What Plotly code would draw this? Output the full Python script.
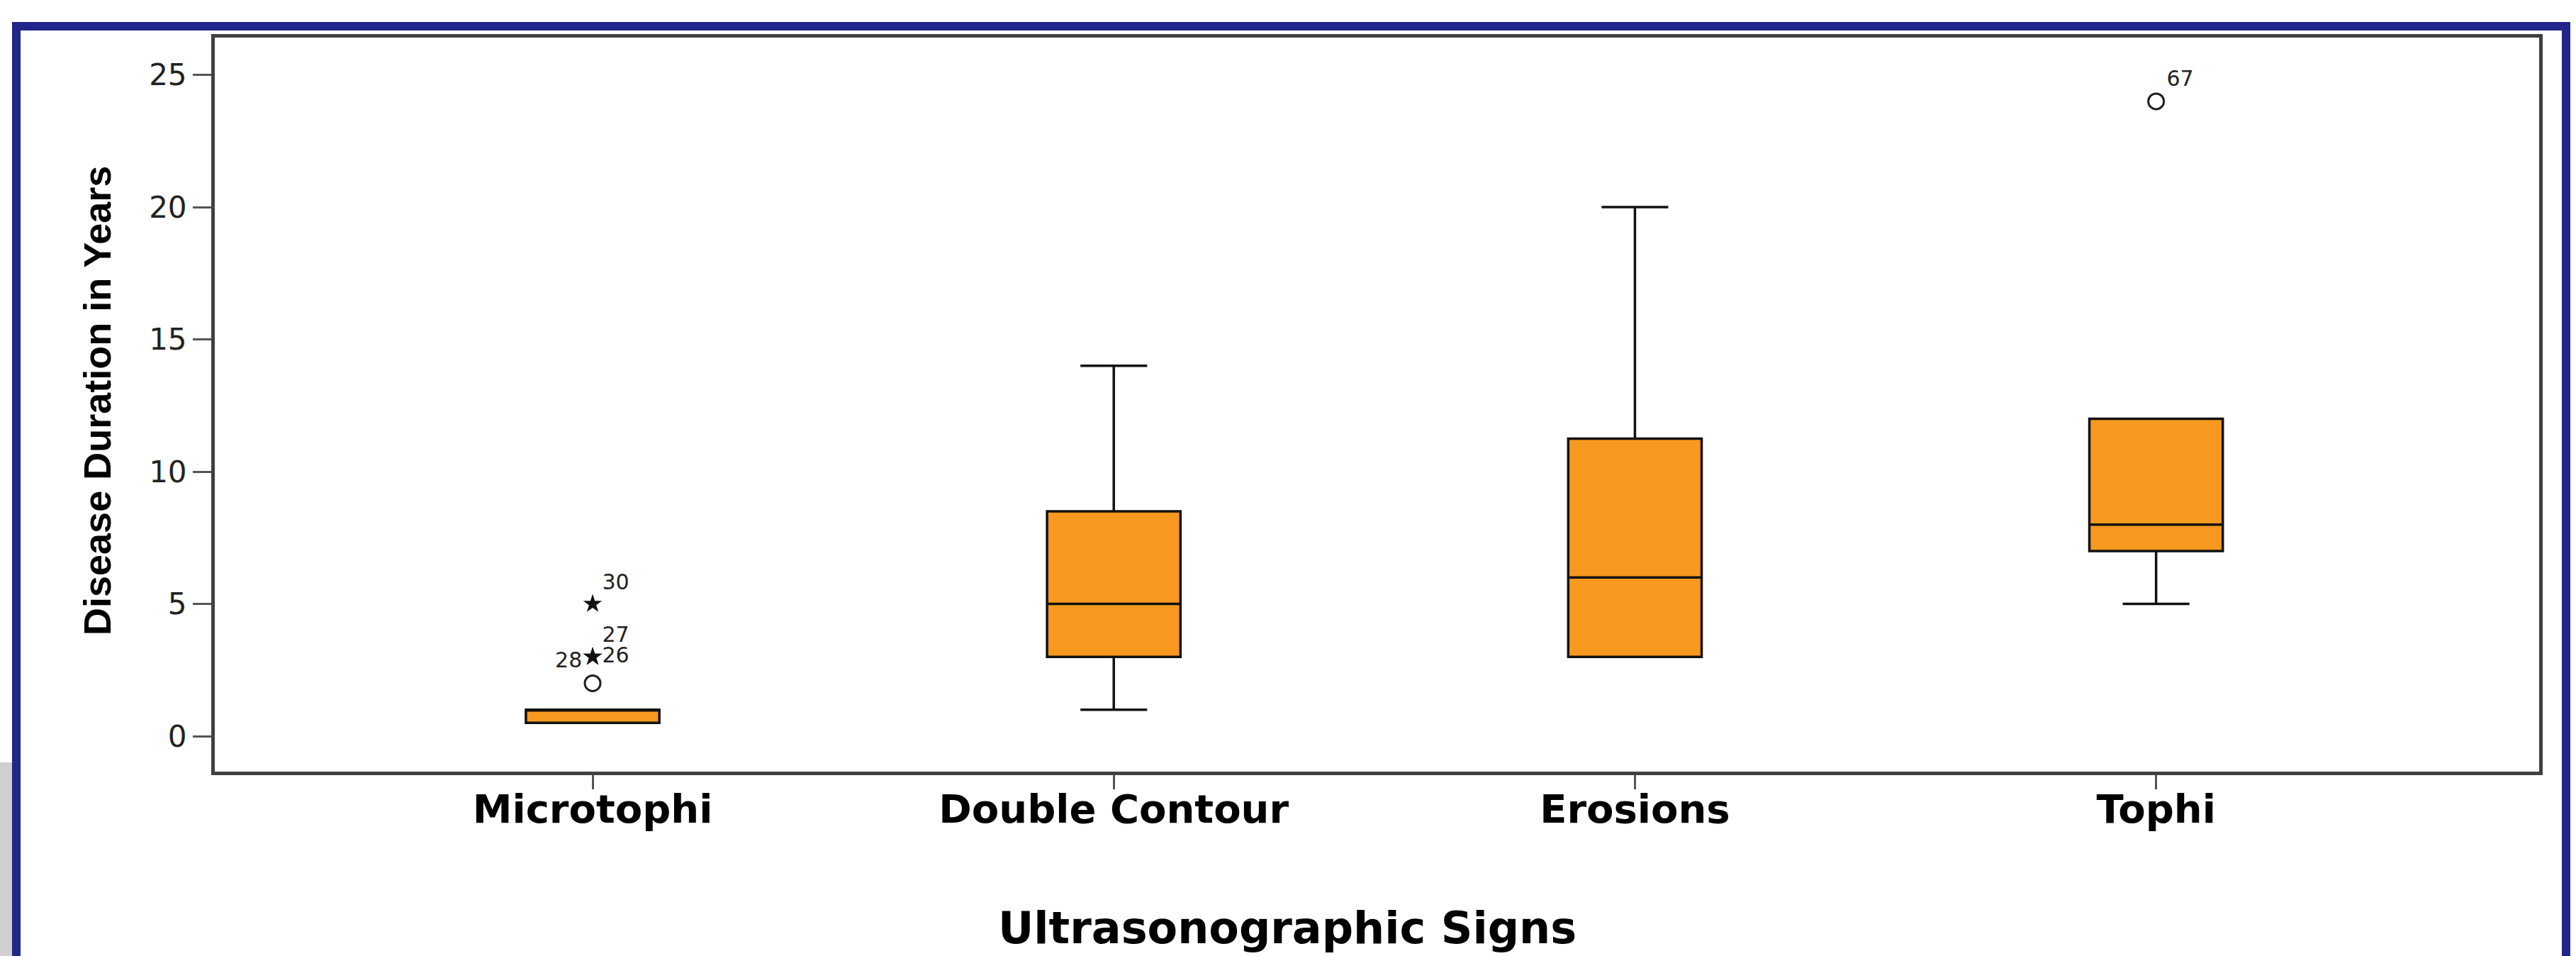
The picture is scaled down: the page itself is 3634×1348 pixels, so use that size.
import plotly.graph_objects as go

# ---------------- data ----------------
categories = ["Microtophi", "Double Contour", "Erosions", "Tophi"]
q1_vals = [0.5, 3, 3, 7]
median_vals = [1, 5, 6, 8]
q3_vals = [1, 8.5, 11.25, 12]
lower_whisker = [0.5, 1, 3, 5]
upper_whisker = [1, 14, 20, 12]

extreme_cat = ["Microtophi", "Microtophi", "Microtophi"]
extreme_val = [5, 3, 3]
extreme_id = ["30", "27", "26"]

mild_cat = ["Microtophi", "Tophi"]
mild_val = [2, 24]
mild_id = ["28", "67"]

y_ticks = [0, 5, 10, 15, 20, 25]
x_title = "Ultrasonographic Signs"
y_title = "Disease Duration in Years"

# ---------------- geometry (pixels) ----------------
W, H = 3634, 1348
L, R, T, B = 303, 3582, 53, 1088
pw, ph = R - L, B - T


def px(x):
    return (x - L) / pw


def py(y):
    return (B - y) / ph


ORANGE = "#F8991F"
NAVY = "#23258A"
AXIS = "#404040"

fig = go.Figure()

fig.add_trace(go.Box(
    x=categories,
    q1=q1_vals,
    median=median_vals,
    q3=q3_vals,
    lowerfence=lower_whisker,
    upperfence=upper_whisker,
    boxpoints=False,
    fillcolor=ORANGE,
    line=dict(color="#111111", width=3.5),
    width=0.256,
    whiskerwidth=0.5,
    showlegend=False,
    hoverinfo="skip",
))

fig.add_trace(go.Scatter(
    x=extreme_cat, y=extreme_val, text=extreme_id,
    mode="markers+text",
    marker=dict(symbol="star", size=20, color="#111111"),
    textposition=["top right", "top right", "middle right"],
    textfont=dict(family="DejaVu Sans", size=30, color="#222222"),
    showlegend=False, cliponaxis=False,
))

fig.add_trace(go.Scatter(
    x=mild_cat, y=mild_val, text=mild_id,
    mode="markers+text",
    marker=dict(symbol="circle-open", size=22, color="#222222", line=dict(width=3)),
    textposition=["top left", "top right"],
    textfont=dict(family="DejaVu Sans", size=30, color="#222222"),
    showlegend=False, cliponaxis=False,
))

shapes = [
    # grey background patch at lower left outside the frame
    dict(type="rect", xref="paper", yref="paper",
         x0=px(-5), x1=px(18), y0=py(1075), y1=py(1360),
         fillcolor="#CFCFCF", line=dict(width=0), layer="below"),
    # blue frame (open at the bottom edge of the image)
    dict(type="path", xref="paper", yref="paper",
         path=f"M {px(23)} {py(1360)} L {px(23)} {py(37)} L {px(3620)} {py(37)} L {px(3620)} {py(1360)}",
         line=dict(color=NAVY, width=12), layer="above"),
]

annotations = [
    dict(text=y_title, xref="paper", yref="paper",
         x=px(137), y=py(565), textangle=-90, showarrow=False,
         xanchor="center", yanchor="middle",
         font=dict(family="Liberation Sans, Arial", size=54,
                   color="#000000", weight="bold")),
    dict(text=x_title, xref="paper", yref="paper",
         x=px(1816), y=py(1308), showarrow=False,
         xanchor="center", yanchor="middle",
         font=dict(family="DejaVu Sans", size=62, color="#000000", weight="bold")),
]

fig.update_layout(
    width=W, height=H,
    margin=dict(l=L, r=W - R, t=T, b=H - B, pad=0),
    paper_bgcolor="#FFFFFF", plot_bgcolor="#FFFFFF",
    shapes=shapes, annotations=annotations,
    xaxis=dict(
        type="category", range=[-0.725, 3.735],
        showline=True, mirror=True, linecolor=AXIS, linewidth=5,
        ticks="outside", ticklen=20, tickwidth=3, tickcolor="#555555",
        ticklabelstandoff=-20,
        showgrid=False, zeroline=False,
        tickfont=dict(family="DejaVu Sans", size=56, color="#000000", weight="bold"),
    ),
    yaxis=dict(
        range=[-1.34, 26.41], tickvals=y_ticks,
        showline=True, mirror=True, linecolor=AXIS, linewidth=5,
        ticks="outside", ticklen=26, tickwidth=3, tickcolor="#555555",
        showgrid=False, zeroline=False,
        tickfont=dict(family="DejaVu Sans", size=42, color="#222222"),
    ),
)

fig.write_html(
    "out.html",
    config={"displayModeBar": False},
    post_script="document.body.style.margin='0';document.body.style.overflow='hidden';",
)
